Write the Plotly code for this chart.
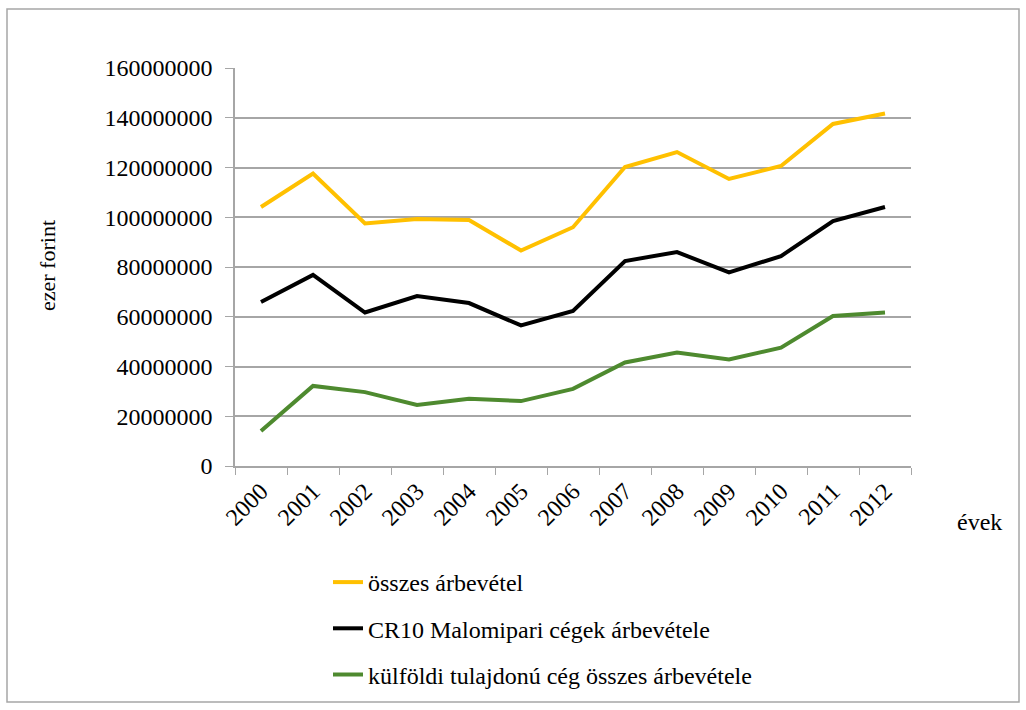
import plotly.graph_objects as go

years = ["2000","2001","2002","2003","2004","2005","2006","2007","2008","2009","2010","2011","2012"]
osszes = [104.1e6, 117.6e6, 97.5e6, 99.3e6, 98.9e6, 86.6e6, 96.0e6, 120.2e6, 126.2e6, 115.4e6, 120.6e6, 137.5e6, 141.7e6]
cr10 = [65.9e6, 76.8e6, 61.7e6, 68.3e6, 65.5e6, 56.5e6, 62.3e6, 82.4e6, 86.0e6, 77.8e6, 84.4e6, 98.5e6, 104.1e6]
kulfoldi = [14.1e6, 32.2e6, 29.7e6, 24.5e6, 27.0e6, 26.1e6, 31.0e6, 41.6e6, 45.6e6, 42.8e6, 47.6e6, 60.3e6, 61.7e6]
names = ["összes árbevétel", "CR10 Malomipari cégek árbevétele", "külföldi tulajdonú cég összes árbevétele"]
colors = ["#FFC000", "#000000", "#4E8A2F"]
yticks = [0, 20000000, 40000000, 60000000, 80000000, 100000000, 120000000, 140000000, 160000000]

W, H = 1026, 710
L, R, T, B = 235, 911, 68, 466

fig = go.Figure()
for i, (nm, vals, c) in enumerate(zip(names, [osszes, cr10, kulfoldi], colors)):
    fig.add_trace(go.Scatter(x=years, y=vals, name=nm, mode="lines",
                             line=dict(color=c, width=4), legendgroup=str(i)))

font = "Liberation Serif"
FS = 24
def px_x(px):
    return (px - L) / (R - L)
def px_y(py):
    return (B - py) / (B - T)

fig.update_layout(
    width=W, height=H,
    margin=dict(l=L, r=W - R, t=T, b=H - B, autoexpand=False),
    paper_bgcolor="white", plot_bgcolor="white",
    font=dict(family=font, size=FS, color="#000000"),
    showlegend=True,
    legend=dict(x=px_x(328), y=px_y(560), xanchor="left", yanchor="top",
                font=dict(family=font, size=FS), tracegroupgap=12,
                bgcolor="rgba(0,0,0,0)", itemwidth=30),
    xaxis=dict(type="category", tickson="boundaries", ticks="outside", ticklen=7,
               tickcolor="#A6A6A6", showline=True, linecolor="#A6A6A6", linewidth=1.5,
               showgrid=False, tickangle=-45, tickfont=dict(family=font, size=FS),
               range=[-0.5, 12.5]),
    yaxis=dict(range=[0, 160000000], tickvals=yticks, ticktext=[str(v) for v in yticks],
               showgrid=True, gridcolor="#A6A6A6", gridwidth=1.5,
               ticks="outside", ticklen=8, tickcolor="#A6A6A6",
               showline=True, linecolor="#A6A6A6", linewidth=1.5,
               zeroline=False, tickfont=dict(family=font, size=FS),
               ticklabelstandoff=8),
    shapes=[dict(type="rect", xref="paper", yref="paper",
                 x0=px_x(7), x1=px_x(1019), y0=px_y(702), y1=px_y(9),
                 line=dict(color="#A6A6A6", width=1.5))],
    annotations=[
        dict(text="ezer forint", textangle=-90, xref="paper", yref="paper",
             x=px_x(47), y=px_y(266), xanchor="center", yanchor="middle",
             showarrow=False, font=dict(family=font, size=22)),
        dict(text="évek", xref="paper", yref="paper", x=px_x(980), y=px_y(522),
             xanchor="center", yanchor="middle",
             showarrow=False, font=dict(family=font, size=FS)),
    ],
)

fig.write_html("out.html", config={"displayModeBar": False},
               post_script="document.body.style.margin='0px';")
